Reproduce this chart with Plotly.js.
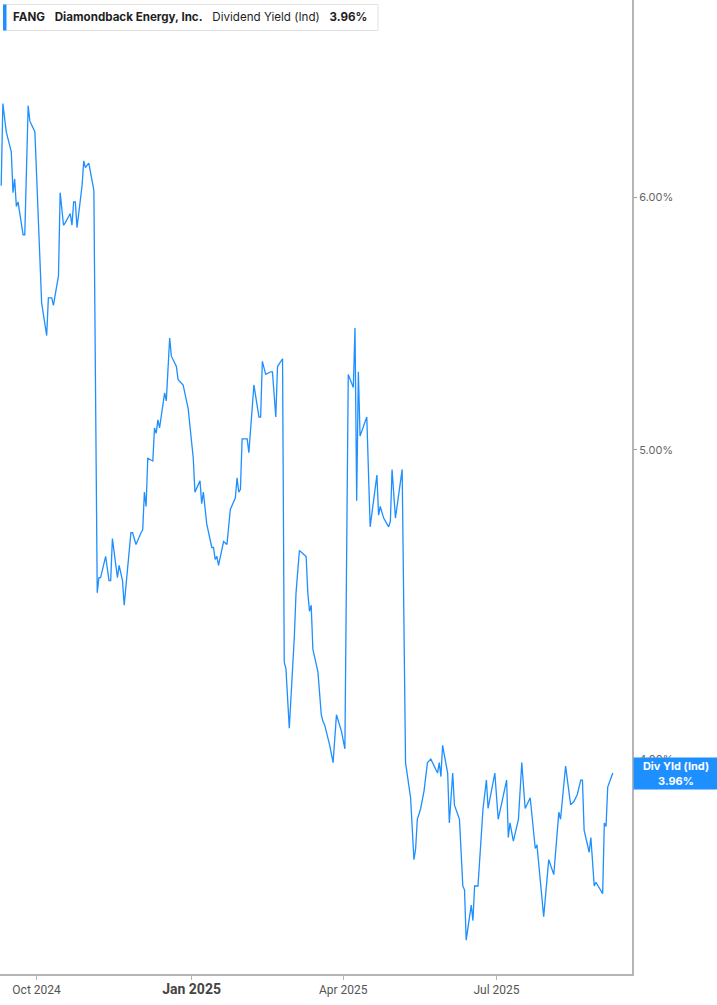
<!DOCTYPE html>
<html><head><meta charset="utf-8">
<script src="https://cdn.plot.ly/plotly-3.0.1.min.js"></script>
<style>html,body{margin:0;padding:0;background:#fff;overflow:hidden;} #chart{width:717px;height:1005px;}</style>
</head><body><div id="chart"></div>
<script>
const ticker = 'FANG';
const companyName = 'Diamondback Energy, Inc.';
const metricName = 'Dividend Yield (Ind)';
const metricShort = 'Div Yld (Ind)';

const dates = [
'2024-09-10','2024-09-11','2024-09-13','2024-09-16','2024-09-17','2024-09-18','2024-09-19','2024-09-20','2024-09-23','2024-09-24',
'2024-09-26','2024-09-27','2024-09-30','2024-10-04','2024-10-07','2024-10-08','2024-10-10','2024-10-11','2024-10-14','2024-10-15',
'2024-10-17','2024-10-18','2024-10-21','2024-10-22','2024-10-23','2024-10-24','2024-10-25','2024-10-28','2024-10-29','2024-10-30',
'2024-11-01','2024-11-04','2024-11-06','2024-11-07','2024-11-08','2024-11-11','2024-11-13','2024-11-14','2024-11-15','2024-11-18',
'2024-11-19','2024-11-21','2024-11-22','2024-11-26','2024-11-27','2024-11-29','2024-12-02','2024-12-03','2024-12-04','2024-12-05',
'2024-12-06','2024-12-09','2024-12-10','2024-12-11','2024-12-12','2024-12-13','2024-12-16','2024-12-17','2024-12-19','2024-12-20',
'2024-12-23','2024-12-24','2024-12-27','2024-12-30','2025-01-02','2025-01-03','2025-01-06','2025-01-07','2025-01-08','2025-01-10',
'2025-01-13','2025-01-14','2025-01-15','2025-01-16','2025-01-17','2025-01-20','2025-01-22','2025-01-24','2025-01-27','2025-01-28',
'2025-01-29','2025-01-30','2025-01-31','2025-02-03','2025-02-04','2025-02-07','2025-02-10','2025-02-11','2025-02-12','2025-02-14',
'2025-02-17','2025-02-18','2025-02-20','2025-02-21','2025-02-24','2025-02-25','2025-02-26','2025-02-28','2025-03-03','2025-03-04',
'2025-03-06','2025-03-10','2025-03-11','2025-03-12','2025-03-13','2025-03-14','2025-03-17','2025-03-19','2025-03-20','2025-03-21',
'2025-03-24','2025-03-26','2025-03-28','2025-03-31','2025-04-02','2025-04-04','2025-04-07','2025-04-08','2025-04-09','2025-04-10',
'2025-04-11','2025-04-15','2025-04-17','2025-04-21','2025-04-22','2025-04-23','2025-04-25','2025-04-28','2025-04-29','2025-04-30',
'2025-05-02','2025-05-06','2025-05-08','2025-05-11','2025-05-13','2025-05-14','2025-05-15','2025-05-17','2025-05-19','2025-05-21',
'2025-05-23','2025-05-27','2025-05-28','2025-05-29','2025-05-30','2025-06-02','2025-06-03','2025-06-05','2025-06-06','2025-06-09',
'2025-06-11','2025-06-12','2025-06-13','2025-06-16','2025-06-17','2025-06-18','2025-06-20','2025-06-23','2025-06-25','2025-06-26',
'2025-06-30','2025-07-02','2025-07-07','2025-07-08','2025-07-09','2025-07-11','2025-07-14','2025-07-16','2025-07-18','2025-07-21',
'2025-07-24','2025-07-25','2025-07-29','2025-08-01','2025-08-04','2025-08-07','2025-08-08','2025-08-11','2025-08-14','2025-08-16',
'2025-08-18','2025-08-20','2025-08-21','2025-08-22','2025-08-25','2025-08-26','2025-08-28','2025-08-29','2025-09-02','2025-09-03',
'2025-09-04','2025-09-05','2025-09-08'
];

const yields = [
6.05,6.42,6.29,6.20,6.02,6.08,5.96,5.98,5.84,5.84,
6.41,6.34,6.29,5.56,5.43,5.58,5.58,5.55,5.67,6.02,
5.88,5.89,5.93,5.88,5.98,5.98,5.87,6.05,6.16,6.13,
6.15,6.03,4.51,4.56,4.56,4.63,4.55,4.55,4.69,4.56,
4.60,4.55,4.47,4.71,4.71,4.67,4.71,4.72,4.85,4.80,
4.97,4.96,5.08,5.06,5.11,5.08,5.21,5.18,5.42,5.35,
5.31,5.26,5.24,5.15,4.97,4.85,4.89,4.81,4.85,4.74,
4.66,4.66,4.62,4.63,4.60,4.68,4.67,4.79,4.83,4.90,
4.85,4.86,5.04,5.04,4.99,5.24,5.12,5.12,5.33,5.28,
5.29,5.29,5.12,5.31,5.34,4.29,4.27,4.09,4.37,4.51,
4.65,4.63,4.51,4.45,4.47,4.33,4.26,4.13,4.11,4.10,
4.04,3.99,4.13,4.08,4.03,5.28,5.23,5.46,4.82,5.29,
5.05,5.12,4.73,4.91,4.77,4.80,4.76,4.73,4.75,4.93,
4.76,4.93,3.99,3.89,3.72,3.75,3.83,3.86,3.91,3.99,
4.00,3.96,3.99,3.95,4.04,3.96,3.82,3.96,3.87,3.83,
3.65,3.64,3.51,3.60,3.56,3.65,3.65,3.86,3.94,3.86,
3.96,3.83,3.94,3.78,3.82,3.77,3.83,3.99,3.86,3.89,
3.75,3.76,3.57,3.72,3.68,3.85,3.83,3.98,3.87,3.88,
3.90,3.94,3.94,3.80,3.74,3.78,3.65,3.66,3.63,3.82,
3.81,3.92,3.96
];

const xTickVals = ['2024-10-01','2025-01-01','2025-04-01','2025-07-01'];
const xTickText = ['Oct 2024','Jan 2025','Apr 2025','Jul 2025'];
const yTickVals = [4,5,6];
const yTickText = ['4.00%','5.00%','6.00%'];

const lineColor = '#1e8fff';
const lastVal = yields[yields.length-1];
const lastTxt = lastVal.toFixed(2) + '%';

const fancyTicks = xTickText.map(t => t.startsWith('Jan')
  ? '<b><span style="font-size:14px;fill:#444">' + t + '</span></b>' : t);

const sp = '&nbsp;&nbsp;&nbsp;';
const legendText = '<b>' + ticker + '</b>' + sp + '<b>' + companyName + '</b>' + sp + metricName + sp + '<b>' + lastTxt + '</b>';

const W = 632, H = 974;

const layout = {
  width: 717, height: 1005,
  margin: {l: 0, r: 85, t: 0, b: 31, pad: 0},
  paper_bgcolor: '#ffffff', plot_bgcolor: '#ffffff',
  showlegend: false,
  font: {family: 'Inter, "Noto Sans", sans-serif', size: 11, color: '#555'},
  xaxis: {
    type: 'date',
    range: ['2024-09-09 07:00', '2025-09-19 10:00'],
    showgrid: false, zeroline: false,
    showline: true, linecolor: '#b5b5b5', linewidth: 2,
    ticks: 'outside', ticklen: 4, tickcolor: '#b5b5b5', tickwidth: 1,
    tickmode: 'array', tickvals: xTickVals, ticktext: fancyTicks,
    tickfont: {family: 'Roboto, "Liberation Sans", sans-serif', size: 12, color: '#555'},
    fixedrange: true, automargin: false
  },
  yaxis: {
    type: 'log', side: 'right',
    range: [Math.log10(3.4254), Math.log10(6.918)],
    showgrid: false, zeroline: false,
    showline: true, linecolor: '#b5b5b5', linewidth: 2,
    ticks: 'outside', ticklen: 3, tickcolor: '#999', tickwidth: 1,
    tickmode: 'array', tickvals: yTickVals, ticktext: yTickText,
    tickfont: {family: 'Inter, "Noto Sans", sans-serif', size: 11, color: '#666'},
    fixedrange: true, automargin: false
  },
  shapes: [
    {type: 'rect', xref: 'paper', yref: 'paper', x0: 3.5/W, x1: 378/W, y0: 1-30.5/H, y1: 1-4.5/H,
     line: {color: '#e2e2e2', width: 1}, fillcolor: '#ffffff', layer: 'above'},
    {type: 'rect', xref: 'paper', yref: 'paper', x0: 3/W, x1: 6.5/W, y0: 1-30.5/H, y1: 1-4.5/H,
     line: {width: 0}, fillcolor: lineColor, layer: 'above'}
  ],
  annotations: [
    {xref: 'paper', yref: 'paper', x: 11.5/W, y: 1-17.5/H, xanchor: 'left', yanchor: 'middle',
     text: legendText, showarrow: false, borderpad: 0,
     font: {family: 'Inter, "Noto Sans", sans-serif', size: 11.6, color: '#1f1f1f'}},
    {xref: 'paper', yref: 'y', x: 1, y: Math.log10(lastVal), xanchor: 'left', yanchor: 'middle',
     xshift: 1, text: '<b>' + metricShort + '</b><br><b>' + lastTxt + '</b>', showarrow: false,
     bgcolor: lineColor, width: 84, height: 31, borderpad: 0, align: 'center',
     font: {family: 'Inter, "Noto Sans", sans-serif', size: 11, color: '#ffffff'}}
  ]
};

const trace = {
  x: dates, y: yields, type: 'scatter', mode: 'lines',
  line: {color: lineColor, width: 1.3},
  hoverinfo: 'skip'
};

Plotly.newPlot('chart', [trace], layout, {staticPlot: true, displayModeBar: false});
</script>
</body></html>
